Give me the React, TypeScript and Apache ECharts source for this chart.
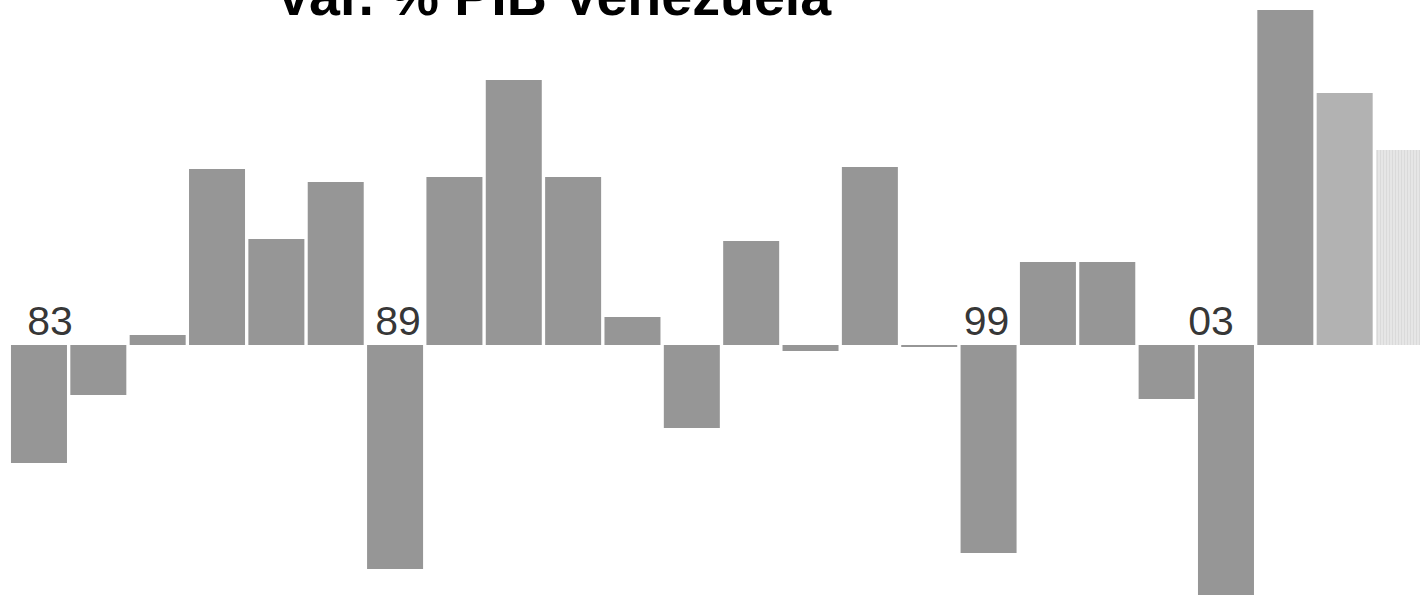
import React, { useEffect, useRef } from "react";
import * as echarts from "echarts";

const years = ["83","84","85","86","87","88","89","90","91","92","93","94","95","96","97","98","99","00","01","02","03","04","05","06"];
const growth = [-5.9,-2.5,0.5,8.8,5.3,8.15,-11.2,8.4,13.25,8.4,1.4,-4.15,5.2,-0.3,8.9,-0.1,-10.4,4.15,4.15,-2.7,-12.5,16.75,12.6,9.75];
const labelYears = ["83","89","99","03"];
const labelShift = [11, 3, -2, -15];
const estimatedYears = ["05"];
const projectedYears = ["06"];
const titleText = "Var. % PIB Venezuela";

export default function App() {
  const ref = useRef<HTMLDivElement>(null);
  useEffect(() => {
    if (!ref.current) return;
    const chart = echarts.init(ref.current, null, { renderer: "svg" });
    const barData = growth.map((v, i) => {
      const y = years[i];
      if (estimatedYears.includes(y)) {
        return { value: v, itemStyle: { color: "#b2b2b2" } };
      }
      if (projectedYears.includes(y)) {
        return {
          value: v,
          itemStyle: {
            color: "#e6e6e6",
            decal: {
              symbol: "rect",
              symbolSize: 1,
              dashArrayX: [1, 2],
              dashArrayY: [4, 0],
              color: "rgba(0,0,0,0.05)",
              rotation: 0,
            },
          },
        };
      }
      return v;
    });
    const labelData = labelYears.map((y, k) => ({
      value: [y, 0],
      label: { offset: [labelShift[k], -24] },
    }));
    chart.setOption({
      animation: false,
      backgroundColor: "#ffffff",
      grid: { left: 9.3, right: 6.3, top: 0, bottom: 0, containLabel: false },
      xAxis: {
        type: "category",
        data: years,
        axisLine: { show: false },
        axisTick: { show: false },
        axisLabel: { show: false },
        splitLine: { show: false },
      },
      yAxis: {
        type: "value",
        min: -12.55,
        max: 17.25,
        axisLine: { show: false },
        axisTick: { show: false },
        axisLabel: { show: false },
        splitLine: { show: false },
      },
      graphic: [
        {
          type: "text",
          left: 275,
          top: -32,
          style: {
            text: titleText,
            font: "bold 55.6px 'Liberation Sans', Arial, sans-serif",
            fill: "#000000",
          },
        },
      ],
      series: [
        {
          type: "bar",
          data: barData,
          barWidth: 56,
          itemStyle: { color: "#969696" },
        },
        {
          type: "scatter",
          data: labelData,
          symbolSize: 0,
          z: 5,
          itemStyle: { color: "#ffffff" },
          label: {
            show: true,
            position: "inside",
            formatter: (p: any) => p.value[0],
            fontFamily: "'Liberation Sans', Arial, sans-serif",
            fontSize: 41,
            color: "#000000",
            textBorderWidth: 0,
            textBorderColor: "transparent",
          },
        },
      ],
    });
    return () => chart.dispose();
  }, []);
  return (
    <div style={{ position: "fixed", left: 0, top: 0, width: 1420, height: 596, overflow: "hidden", background: "#fff" }}>
      <div ref={ref} style={{ width: 1440, height: 596 }} />
    </div>
  );
}
